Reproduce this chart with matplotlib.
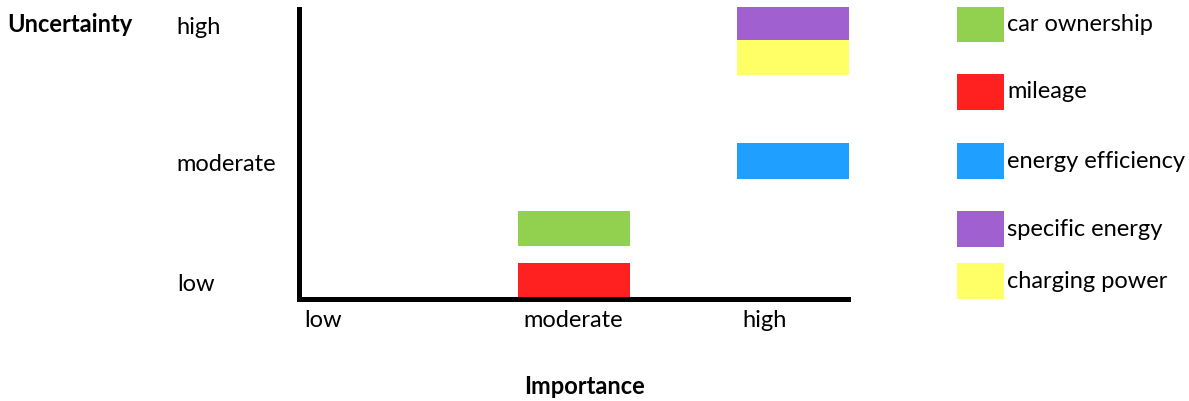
import matplotlib
matplotlib.use("Agg")
import matplotlib.pyplot as plt
from matplotlib.patches import Rectangle

plt.rcParams['font.family'] = ['Lato', 'DejaVu Sans']

# importance / uncertainty categories
levels = ['low', 'moderate', 'high']
y_tick_pos = [0.58, 4.69, 9.38]

# each factor: importance column, uncertainty bottom and top
factors = ['mileage', 'car ownership', 'energy efficiency', 'charging power', 'specific energy']
importance = [1, 1, 2, 2, 2]
unc_bottom = [0.0, 1.80, 4.11, 7.67, 8.87]
unc_top = [1.23, 3.01, 5.34, 8.87, 10.0]
colors = {'car ownership': '#92D050', 'mileage': '#FF2020',
          'energy efficiency': '#1F9FFF', 'specific energy': '#A060D0',
          'charging power': '#FFFF66'}

# legend entries, top to bottom, with their box extents (same vertical scale)
legend_order = ['car ownership', 'mileage', 'energy efficiency', 'specific energy', 'charging power']
legend_bottom = [8.80, 6.47, 4.11, 1.78, 0.0]
legend_top = [10.0, 7.71, 5.34, 3.01, 1.23]

FS = 17
W, H = 1189, 401
fig = plt.figure(figsize=(W / 100, H / 100), dpi=100)

ax = fig.add_axes([299 / W, (H - 299) / H, (850 - 299) / W, (299 - 7) / H])
bar_w = 0.51
for name, imp, b, t in zip(factors, importance, unc_bottom, unc_top):
    ax.add_patch(Rectangle((imp, b), bar_w, t - b, facecolor=colors[name], edgecolor='none'))
ax.set_xlim(0, 2.516)
ax.set_ylim(0, 10)
for s in ['top', 'right']:
    ax.spines[s].set_visible(False)
for s in ['left', 'bottom']:
    ax.spines[s].set_linewidth(3.6)
    ax.spines[s].set_capstyle('projecting')
ax.spines['left'].set_bounds(0, 9.93)
ax.spines['bottom'].set_bounds(0, 2.509)

ax.set_xticks([i + 0.025 for i in range(3)])
ax.set_xticklabels(levels, ha='left', fontsize=FS)
ax.set_yticks(y_tick_pos)
ax.set_yticklabels(levels, ha='left', fontsize=FS)
ax.tick_params(axis='both', length=0)
ax.tick_params(axis='x', pad=8)
ax.tick_params(axis='y', pad=88)

# legend drawn in its own panel next to the chart
lax = fig.add_axes([957 / W, (H - 299) / H, (W - 957) / W, (299 - 7) / H], sharey=ax)
lax.set_xlim(0, W - 957)
lax.axis('off')
for name, b, t in zip(legend_order, legend_bottom, legend_top):
    lax.add_patch(Rectangle((0, b), 47, t - b, facecolor=colors[name], edgecolor='none'))
    lax.text(50, (b + t) / 2, name, fontsize=FS, va='center', ha='left')

fig.text(7 / W, 1 - 25 / H, 'Uncertainty', fontsize=FS, fontweight='bold', va='center', ha='left')
fig.text(585 / W, 1 - 387 / H, 'Importance', fontsize=FS, fontweight='bold', va='center', ha='center')

fig.savefig('out.png', dpi=100)
